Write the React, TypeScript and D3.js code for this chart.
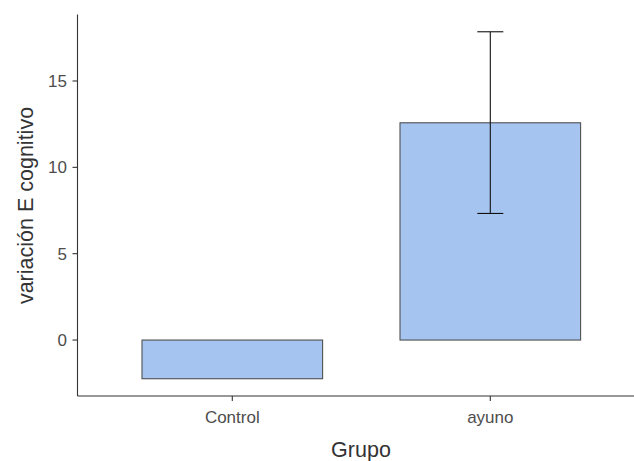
import React from 'react';
import * as d3 from 'd3';

// group means and error bar limits
const grupos = ['Control', 'ayuno'];
const medias = [-2.24, 12.58];
const errMin = [null, 7.33];
const errMax = [null, 17.85];
const yTicks = [0, 5, 10, 15];

const W = 634;
const H = 461;
const font = '"Liberation Sans", Arial, sans-serif';

export default function App() {
  const y = d3.scaleLinear().domain([-3.24, 18.85]).range([396, 14.5]);
  const x = d3.scaleBand<string>()
    .domain(grupos)
    .range([77.5, 645.1])
    .paddingInner(0.3)
    .paddingOuter(0.25);

  const bw = x.bandwidth();
  const capW = 26;

  return (
    <svg width={W} height={H} style={{ position: 'absolute', left: 0, top: 0, background: '#fff' }}>
      {/* bars */}
      {grupos.map((g, i) => {
        const v = medias[i];
        const top = y(Math.max(0, v));
        const bot = y(Math.min(0, v));
        return (
          <rect key={g} x={x(g)} y={top} width={bw} height={bot - top}
            fill="#a5c4f0" stroke="#505050" strokeWidth={1.1} />
        );
      })}

      {/* error bars */}
      {grupos.map((g, i) => {
        if (errMin[i] == null || errMax[i] == null) return null;
        const cx = (x(g) as number) + bw / 2;
        return (
          <g key={'e' + g} stroke="#111" strokeWidth={1.1}>
            <line x1={cx} x2={cx} y1={y(errMin[i] as number)} y2={y(errMax[i] as number)} />
            <line x1={cx - capW / 2} x2={cx + capW / 2} y1={y(errMax[i] as number)} y2={y(errMax[i] as number)} />
            <line x1={cx - capW / 2} x2={cx + capW / 2} y1={y(errMin[i] as number)} y2={y(errMin[i] as number)} />
          </g>
        );
      })}

      {/* axes */}
      <line x1={77.5} x2={77.5} y1={14.5} y2={396} stroke="#333" strokeWidth={1.1} />
      <line x1={77.5} x2={W} y1={396} y2={396} stroke="#333" strokeWidth={1.1} />

      {yTicks.map(t => (
        <g key={'y' + t}>
          <line x1={72.5} x2={77.5} y1={y(t)} y2={y(t)} stroke="#333" strokeWidth={1.1} />
          <text x={67} y={y(t)} dy="0.36em" textAnchor="end" fontFamily={font}
            fontSize={17} fill="#4d4d4d">{t}</text>
        </g>
      ))}

      {grupos.map(g => {
        const cx = (x(g) as number) + bw / 2;
        return (
          <g key={'x' + g}>
            <line x1={cx} x2={cx} y1={396} y2={401} stroke="#333" strokeWidth={1.1} />
            <text x={cx} y={423} textAnchor="middle" fontFamily={font}
              fontSize={17} fill="#4d4d4d">{g}</text>
          </g>
        );
      })}

      <text x={361} y={457} textAnchor="middle" fontFamily={font} fontSize={21.5} fill="#333">Grupo</text>
      <text transform="translate(33,205.5) rotate(-90)" textAnchor="middle" fontFamily={font}
        fontSize={21.5} fill="#333">variación E cognitivo</text>
    </svg>
  );
}
